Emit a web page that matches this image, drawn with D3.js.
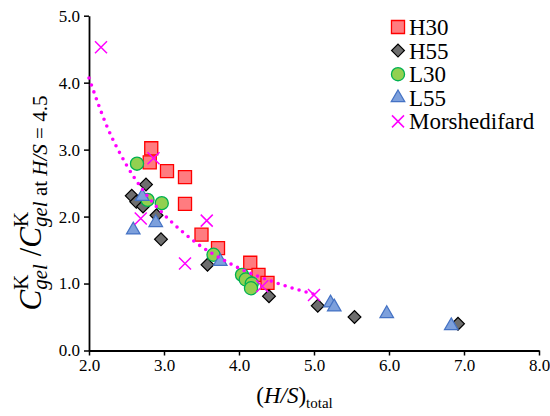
<!DOCTYPE html>
<html>
<head>
<meta charset="utf-8">
<script src="https://cdn.jsdelivr.net/npm/d3@7"></script>
<style>
  body { margin: 0; background: #fff; }
  svg text, svg tspan { font-family: "Liberation Serif", "Times New Roman", serif !important; }
</style>
</head>
<body>
<script>
// values
const h30X = [2.83, 2.81, 3.04, 3.28, 3.28, 3.50, 3.72, 4.15, 4.26, 4.38];
const h30Y = [3.02, 2.81, 2.68, 2.59, 2.19, 1.73, 1.53, 1.31, 1.13, 1.01];
const h55X = [2.57, 2.63, 2.72, 2.76, 2.90, 2.96, 3.58, 4.40, 5.05, 5.54, 6.92];
const h55Y = [2.31, 2.22, 2.15, 2.48, 2.02, 1.66, 1.28, 0.81, 0.67, 0.50, 0.40];
const l30X = [2.64, 2.78, 2.97, 3.66, 4.04, 4.09, 4.17, 4.16];
const l30Y = [2.79, 2.25, 2.20, 1.43, 1.13, 1.06, 1.00, 0.93];
const l55X = [2.59, 2.71, 2.89, 3.75, 5.22, 5.27, 5.97, 6.83];
const l55Y = [1.80, 2.30, 1.91, 1.33, 0.71, 0.65, 0.55, 0.37];
const morX = [2.16, 2.69, 2.86, 3.28, 3.57, 4.31, 5.00];
const morY = [4.53, 1.97, 2.87, 1.30, 1.94, 0.96, 0.83];
// dotted trend curve, read at these x positions
const trendX = [2.0, 2.25, 2.5, 2.75, 3.0, 3.25, 3.5, 3.75, 4.0, 4.25, 4.5, 4.75, 5.0];
const trendY = [4.07, 3.32, 2.77, 2.35, 2.03, 1.77, 1.55, 1.38, 1.23, 1.11, 1.01, 0.92, 0.84];

const xTickVals = [2, 3, 4, 5, 6, 7, 8];
const yTickVals = [0, 1, 2, 3, 4, 5];
const seriesNames = ["H30", "H55", "L30", "L55", "Morshedifard"];

(function drawChart() {
    const W = 550, H = 416;
    const FONT = '"Liberation Serif", "Times New Roman", serif';

    const svg = d3.select("body").append("svg")
        .attr("width", W)
        .attr("height", H);

    const xs = d3.scaleLinear().domain([2, 8]).range([89, 539]);
    const ys = d3.scaleLinear().domain([0, 5]).range([350.5, 15.7]);

    // axes
    const xAxis = svg.append("g")
        .attr("transform", `translate(0, ${ys(0)})`)
        .call(d3.axisBottom(xs).tickValues(xTickVals).tickFormat(d3.format(".1f")).tickSize(5).tickSizeOuter(0).tickPadding(3));
    const yAxis = svg.append("g")
        .attr("transform", `translate(${xs(2)}, 0)`)
        .call(d3.axisLeft(ys).tickValues(yTickVals).tickFormat(d3.format(".1f")).tickSize(5).tickSizeOuter(0).tickPadding(4));
    [xAxis, yAxis].forEach(g => {
        g.attr("font-family", FONT).attr("font-size", 17);
        g.select(".domain").attr("stroke", "#000").attr("stroke-width", 1.8);
        g.selectAll(".tick line").attr("stroke", "#000").attr("stroke-width", 1.5);
        g.selectAll(".tick text").attr("fill", "#000").style("font-family", FONT, "important");
    });

    // marker shapes
    const xMark = { draw(ctx, size) { const r = Math.sqrt(size) / 2; ctx.moveTo(-r, -r); ctx.lineTo(r, r); ctx.moveTo(r, -r); ctx.lineTo(-r, r); } };
    const styles = [
        { type: d3.symbolSquare, size: 170, fill: "#FF7C80", stroke: "#FF0000", rot: 0, sw: 1.3 },
        { type: d3.symbolSquare, size: 82, fill: "#6E6E6E", stroke: "#000", rot: 45, sw: 1.2 },
        { type: d3.symbolCircle, size: 135, fill: "#92D050", stroke: "#00B050", rot: 0, sw: 1.3 },
        { type: d3.symbolTriangle, size: 80, fill: "#7DA0DC", stroke: "#4472C4", rot: 0, sw: 1.2 },
        { type: xMark, size: 144, fill: "none", stroke: "#FF00FF", rot: 0, sw: 1.5 }
    ];
    const seriesData = [
        h30X.map((v, i) => [v, h30Y[i]]),
        h55X.map((v, i) => [v, h55Y[i]]),
        l30X.map((v, i) => [v, l30Y[i]]),
        l55X.map((v, i) => [v, l55Y[i]]),
        morX.map((v, i) => [v, morY[i]])
    ];

    seriesData.forEach((pts, k) => {
        const s = styles[k];
        svg.append("g").selectAll("path")
            .data(pts)
            .enter()
            .append("path")
            .attr("d", d3.symbol(s.type, s.size))
            .attr("transform", d => `translate(${xs(d[0])}, ${ys(d[1])}) rotate(${s.rot})`)
            .attr("fill", s.fill)
            .attr("stroke", s.stroke)
            .attr("stroke-width", s.sw);
    });

    // dotted trend line
    svg.append("path")
        .datum(trendX.map((v, i) => [v, trendY[i]]))
        .attr("d", d3.line().x(d => xs(d[0])).y(d => ys(d[1])).curve(d3.curveMonotoneX))
        .attr("fill", "none")
        .attr("stroke", "#FF00FF")
        .attr("stroke-width", 3.6)
        .attr("stroke-linecap", "round")
        .attr("stroke-dasharray", "0,7.3");

    // legend
    const legend = svg.append("g");
    seriesNames.forEach((name, k) => {
        const s = styles[k];
        const ly = 27 + k * 23.6;
        legend.append("path")
            .attr("d", d3.symbol(s.type, s.size))
            .attr("transform", `translate(398, ${ly}) rotate(${s.rot})`)
            .attr("fill", s.fill)
            .attr("stroke", s.stroke)
            .attr("stroke-width", s.sw);
        legend.append("text")
            .attr("x", 409)
            .attr("y", ly + 8)
            .style("font-family", FONT, "important")
            .style("font-size", "23px")
            .text(name);
    });

    // x title: (H/S)total
    const xt = svg.append("text").attr("x", 294.5).attr("y", 403).attr("text-anchor", "middle")
        .style("font-family", FONT, "important").style("font-size", "23px");
    xt.append("tspan").text("(");
    xt.append("tspan").style("font-style", "italic").text("H/S");
    xt.append("tspan").text(")");
    xt.append("tspan").attr("dy", 5).style("font-size", "15px").text("total");

    // y title: sup K stacked over sub gel (K is 0.722em wide)
    const supSize = 21, bigSize = 31, kWidth = 0.722 * supSize;
    const yt = svg.append("text")
        .attr("transform", "translate(41, 203) rotate(-90)")
        .attr("text-anchor", "middle")
        .style("font-family", FONT, "important")
        .style("font-size", bigSize + "px");
    function sp(str, size, italic, dx, dy) {
        yt.append("tspan")
            .attr("dx", dx).attr("dy", dy)
            .style("font-family", FONT, "important")
            .style("font-size", size + "px")
            .style("font-style", italic ? "italic" : "normal")
            .text(str);
    }
    sp("C", bigSize, true, 0, 0);
    sp("K", supSize, false, 0, -13);
    sp("gel", supSize, true, -kWidth, 19);
    sp("\u00A0/", bigSize, false, 0, -6);
    sp("C", bigSize, true, 0, 0);
    sp("K", supSize, false, 0, -13);
    sp("gel", supSize, true, -kWidth, 19);
    sp("\u00A0at\u00A0", supSize, false, 0, 0);
    sp("H/S", supSize, true, 0, 0);
    sp("\u00A0=\u00A04.5", supSize, false, 0, 0);
})();
</script>
</body>
</html>
